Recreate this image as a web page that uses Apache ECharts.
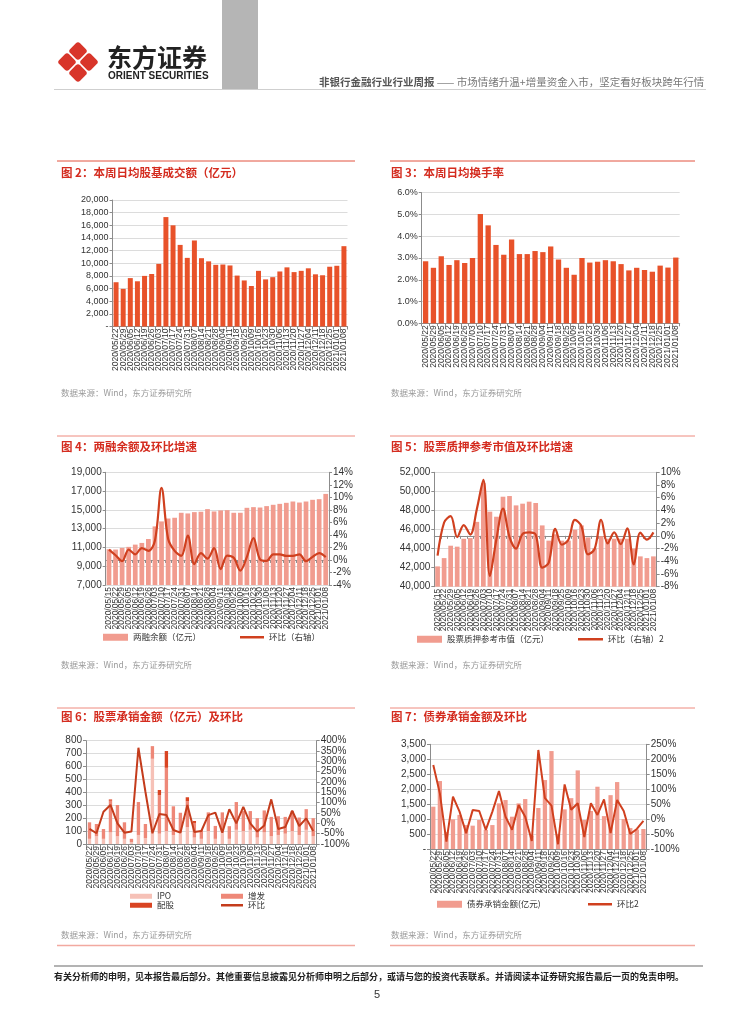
<!DOCTYPE html>
<html><head><meta charset="utf-8">
<script src="https://cdn.jsdelivr.net/npm/echarts@6.0.0/dist/echarts.min.js"></script>
<style>html,body{margin:0;padding:0;background:#fff}#c{width:754px;height:1024px}</style>
</head><body><div id="c"></div>
<script>
// ---------- DATA ----------
const dates33 = ['2020/05/22','2020/05/29','2020/06/05','2020/06/12','2020/06/19','2020/06/26','2020/07/03','2020/07/10','2020/07/17','2020/07/24','2020/07/31','2020/08/07','2020/08/14','2020/08/21','2020/08/28','2020/09/04','2020/09/11','2020/09/18','2020/09/25','2020/10/09','2020/10/16','2020/10/23','2020/10/30','2020/11/06','2020/11/13','2020/11/20','2020/11/27','2020/12/04','2020/12/11','2020/12/18','2020/12/25','2021/01/01','2021/01/08'];
const dates34 = ['2020/05/15','2020/05/22','2020/05/29','2020/06/05','2020/06/12','2020/06/19','2020/06/26','2020/07/03','2020/07/10','2020/07/17','2020/07/24','2020/07/31','2020/08/07','2020/08/14','2020/08/21','2020/08/28','2020/09/04','2020/09/11','2020/09/18','2020/09/25','2020/10/09','2020/10/16','2020/10/23','2020/10/30','2020/11/06','2020/11/13','2020/11/20','2020/11/27','2020/12/04','2020/12/11','2020/12/18','2020/12/25','2021/01/01','2021/01/08'];

// Fig 2: daily avg turnover (亿元)
const turnover = [7000,5950,7650,7150,8000,8300,9900,17300,16000,12900,10850,13600,10800,10300,9750,9800,9650,8050,7280,6400,8800,7450,7800,8700,9350,8600,8800,9200,8250,8100,9450,9600,12700];
// Fig 3: daily avg turnover rate (%)
const turnRate = [2.85,2.55,3.08,2.68,2.9,2.77,3.0,5.02,4.5,3.6,3.15,3.85,3.18,3.18,3.32,3.27,3.53,2.93,2.55,2.23,3.0,2.79,2.83,2.9,2.85,2.72,2.43,2.55,2.45,2.37,2.65,2.56,3.02];
// Fig 4: margin balance & growth
const marginBal = [10810,10775,10950,11060,11300,11480,11900,13240,13770,14080,14160,14690,14620,14760,14800,15080,14830,14940,14970,14690,14690,15220,15290,15250,15400,15540,15640,15750,15890,15780,15890,16070,16140,16700];
const marginChg = [1.66,0.75,-0.2,1.66,0.9,1.9,1.45,3.1,11.5,3.4,1.45,0.65,3.9,-0.65,1.1,0.2,1.9,-1.45,0.7,0.35,-1.7,0.5,3.5,0.1,-0.15,0.9,0.9,0.65,0.65,0.9,-0.2,0.5,1.1,0.45];
// Fig 5: pledge market value & growth
const pledgeVal = [42130,43000,44300,44200,45030,45100,46800,50870,47870,47340,49440,49510,48530,48710,48920,48780,46430,44830,45500,44830,44830,45980,46430,45170,44020,45300,45030,45030,45030,45030,44000,43180,43000,43180];
const pledgeChg = [-3.1,2.1,3.1,-0.2,1.7,0.2,4.2,8.8,-6.3,-0.5,4.3,-0.2,-2.0,0.3,0.55,0.2,-5.0,-4.2,1.1,-1.4,-0.6,2.5,1.5,-2.9,-2.1,2.5,-1.2,0.55,-1.3,1.2,-4.5,0.5,-0.6,0.55];
// Fig 6: equity underwriting (亿元)
const ipo    = [40,60,40,90,60,40,15,70,45,660,80,100,70,90,130,50,40,100,40,100,40,110,100,110,50,90,60,70,80,100,70,110,60];
const zengfa = [128,95,76,245,242,128,25,255,110,98,298,490,222,152,202,113,68,145,100,145,98,215,155,145,150,170,150,145,130,155,135,160,140];
const peigu  = [0,0,0,10,0,0,0,0,0,0,40,130,0,0,30,15,0,0,0,0,0,0,0,0,0,0,0,0,0,0,0,0,0];
const equityChg = [-27,-48,56,89,0,-45,-40,366,153,-48,45,40,-32,-45,89,-42,-37,40,52,-45,68,0,80,0,-40,-11,116,-27,-18,61,-13,24,-37];
// Fig 7: bond underwriting
const bondAmt = [1414,2272,570,990,1140,800,780,970,640,800,1525,1637,1080,1525,1670,450,1370,2305,3274,500,1325,1700,2628,970,1270,2082,1100,1800,2238,1000,700,650,668];
const bondChg = [181,86,-75,75,25,-47,30,27,-36,25,94,8,-36,47,8,-73,231,70,45,-84,116,31,53,-60,53,14,66,-47,64,27,-50,-33,-6];

// ---------- STYLE ----------
const NUM = '"Liberation Sans", Arial, sans-serif';
const CJK = '"Noto Sans CJK SC", "Liberation Sans", sans-serif';
const fmtNum = v => String(v).replace(/\B(?=(\d{3})+(?!\d))/g, ',');

function xCat(gi, data, fs) {
  return {type:'category', gridIndex:gi, data:data, boundaryGap:true,
    axisLine:{lineStyle:{color:'#8c8c8c', width:1}},
    axisTick:{show:true, length:3, lineStyle:{color:'#8c8c8c'}},
    axisLabel:{interval:0, rotate:90, fontSize:fs, color:'#333', fontFamily:NUM, margin:2}};
}
function yVal(gi, min, max, interval, fmt, pos, split, fs) {
  return {type:'value', gridIndex:gi, min:min, max:max, interval:interval, position:pos,
    axisLine:{show:true, lineStyle:{color:'#8c8c8c'}},
    axisTick:{show:true, length:3, lineStyle:{color:'#8c8c8c'}},
    splitLine:{show:split, lineStyle:{color:'#dcdcdc', width:1}},
    axisLabel:{fontSize:fs, color:'#333', fontFamily:NUM, margin:4, formatter:fmt}};
}
function txt(x, y, s, font, fill, align) {
  return {type:'text', x:x, y:y, style:{text:s, font:font, fill:fill, align:align||'left', verticalAlign:'middle'}};
}
function hline(x1, x2, y, color, w) {
  return {type:'line', shape:{x1:x1, y1:y, x2:x2, y2:y}, style:{stroke:color, lineWidth:w||1}};
}
function legendBar(name, left, top, w, h) {
  return {data:[name], left:left, top:top, padding:0, itemWidth:w, itemHeight:h, icon:'rect',
    textStyle:{fontSize:8.5, color:'#333', fontFamily:CJK}, selectedMode:false};
}
function legendLine(name, left, top, w) {
  return {data:[name], left:left, top:top, padding:0, itemWidth:w, itemHeight:2.5, icon:'rect',
    textStyle:{fontSize:8.5, color:'#333', fontFamily:CJK}, selectedMode:false};
}

const titleFont = 'bold 11.5px ' + CJK;
const titleColor = '#D42C1F';
const srcFont = '8.5px ' + CJK;
const srcColor = '#9a9a9a';
const srcText = '数据来源：Wind，东方证券研究所';

const logoRed = '#D8352A';
function petal(cx, cy) {
  return {type:'rect', x:cx, y:cy, rotation:Math.PI/4,
    shape:{x:-7, y:-7, width:14, height:14, r:3}, style:{fill:logoRed}};
}

const graphic = [
  // header
  {type:'rect', shape:{x:222, y:0, width:36, height:89}, style:{fill:'#B5B5B5'}},
  hline(54, 706, 89.5, '#cfcfcf', 1),
  petal(78, 51), petal(67, 62), petal(89, 62), petal(78, 73),
  txt(107, 57, '东方证券', 'bold 25px ' + CJK, '#222'),
  txt(108, 76, 'ORIENT SECURITIES', 'bold 10px ' + NUM, '#222'),
  {type:'text', x:319, y:82, style:{text:'{b|非银行金融行业行业周报}{n| —— 市场情绪升温+增量资金入市，坚定看好板块跨年行情}',
    verticalAlign:'middle', rich:{b:{font:'bold 10.5px ' + CJK, fill:'#555'}, n:{font:'10.5px ' + CJK, fill:'#777'}}}},
  // section lines
  hline(57, 355, 161, '#E2533F', 1), hline(390, 695, 161, '#E2533F', 1),
  hline(57, 355, 436, '#EE8A7E', 1), hline(390, 695, 436, '#EE8A7E', 1),
  hline(57, 355, 708, '#EE8A7E', 1), hline(390, 695, 708, '#EE8A7E', 1),
  hline(57, 355, 945.5, '#F2A9A0', 1.5), hline(390, 695, 945.5, '#F2A9A0', 1.5),
  // titles
  txt(61, 172.5, '图 2：本周日均股基成交额（亿元）', titleFont, titleColor),
  txt(391, 172.5, '图 3：本周日均换手率', titleFont, titleColor),
  txt(61, 446.5, '图 4：两融余额及环比增速', titleFont, titleColor),
  txt(391, 446.5, '图 5：股票质押参考市值及环比增速', titleFont, titleColor),
  txt(61, 716.5, '图 6：股票承销金额（亿元）及环比', titleFont, titleColor),
  txt(391, 716.5, '图 7：债券承销金额及环比', titleFont, titleColor),
  // sources
  txt(61, 393, srcText, srcFont, srcColor), txt(391, 393, srcText, srcFont, srcColor),
  txt(61, 665, srcText, srcFont, srcColor), txt(391, 665, srcText, srcFont, srcColor),
  txt(61, 935, srcText, srcFont, srcColor), txt(391, 935, srcText, srcFont, srcColor),
  // footer
  hline(54, 703, 966, '#9a9a9a', 1.5),
  txt(54, 977, '有关分析师的申明，见本报告最后部分。其他重要信息披露见分析师申明之后部分，或请与您的投资代表联系。并请阅读本证券研究报告最后一页的免责申明。', 'bold 9px ' + CJK, '#222'),
  txt(377, 995, '5', '11px ' + NUM, '#333', 'center')
];

const barRed = '#E8522A';
const barPink = '#F19C8F';
const lineRed = '#D0401F';

const option = {
  animation:false,
  backgroundColor:'#fff',
  graphic: graphic,
  grid:[
    {left:112.5, top:200, width:235, height:126.5},
    {left:421.7, top:192.7, width:258, height:130.6},
    {left:105.7, top:472.3, width:223.3, height:112.7},
    {left:434.3, top:472.3, width:222.4, height:114.4},
    {left:86, top:740.7, width:230.7, height:103.3},
    {left:430, top:744.3, width:216.7, height:104.7}
  ],
  xAxis:[
    xCat(0, dates33, 8.5), xCat(1, dates33, 8.5), xCat(2, dates34, 8.5),
    xCat(3, dates34, 8.5), xCat(4, dates33, 8.5), xCat(5, dates33, 8.5)
  ],
  yAxis:[
    yVal(0, 0, 20000, 2000, v => v === 0 ? '-' : fmtNum(v), 'left', true, 9),
    yVal(1, 0, 6, 1, v => v.toFixed(1) + '%', 'left', true, 9),
    yVal(2, 7000, 19000, 2000, v => fmtNum(v), 'left', true, 10),
    yVal(2, -4, 14, 2, v => v + '%', 'right', false, 10),
    yVal(3, 40000, 52000, 2000, v => fmtNum(v), 'left', true, 10),
    yVal(3, -8, 10, 2, v => v + '%', 'right', false, 10),
    yVal(4, 0, 800, 100, v => String(v), 'left', true, 10),
    yVal(4, -100, 400, 50, v => v + '%', 'right', false, 10),
    yVal(5, 0, 3500, 500, v => v === 0 ? '-' : fmtNum(v), 'left', true, 10),
    yVal(5, -100, 250, 50, v => v + '%', 'right', false, 10)
  ],
  legend:[
    legendBar('两融余额（亿元）', 103, 633, 25, 7),
    legendLine('环比（右轴）', 240, 633, 24),
    legendBar('股票质押参考市值（亿元）', 417, 635, 25, 7),
    legendLine('环比（右轴）2', 578, 635, 25),
    legendBar('IPO', 130, 892, 22, 5),
    legendBar('增发', 221, 892, 22, 5),
    legendBar('配股', 130, 901, 22, 5),
    legendLine('环比', 221, 901, 22),
    legendBar('债券承销金额(亿元)', 437, 900, 25, 7),
    legendLine('环比2', 588, 900, 24)
  ],
  series:[
    {name:'日均股基成交额', type:'bar', xAxisIndex:0, yAxisIndex:0, data:turnover, barWidth:'70%', itemStyle:{color:barRed}},
    {name:'日均换手率', type:'bar', xAxisIndex:1, yAxisIndex:1, data:turnRate, barWidth:'68%', itemStyle:{color:barRed}},
    {name:'两融余额（亿元）', type:'bar', xAxisIndex:2, yAxisIndex:2, data:marginBal, barWidth:'72%', itemStyle:{color:barPink}},
    {name:'环比（右轴）', type:'line', xAxisIndex:2, yAxisIndex:3, data:marginChg, symbol:'none', smooth:0.35, lineStyle:{color:lineRed, width:2.2}, itemStyle:{color:lineRed}},
    {name:'股票质押参考市值（亿元）', type:'bar', xAxisIndex:3, yAxisIndex:4, data:pledgeVal, barWidth:'72%', itemStyle:{color:barPink}},
    {name:'环比（右轴）2', type:'line', xAxisIndex:3, yAxisIndex:5, data:pledgeChg, symbol:'none', smooth:0.35, lineStyle:{color:lineRed, width:2.2}, itemStyle:{color:lineRed}},
    {name:'IPO', type:'bar', stack:'eq', xAxisIndex:4, yAxisIndex:6, data:ipo, barWidth:'48%', itemStyle:{color:'#F6C1B7'}},
    {name:'增发', type:'bar', stack:'eq', xAxisIndex:4, yAxisIndex:6, data:zengfa, barWidth:'48%', itemStyle:{color:'#EE8878'}},
    {name:'配股', type:'bar', stack:'eq', xAxisIndex:4, yAxisIndex:6, data:peigu, barWidth:'48%', itemStyle:{color:'#D94422'}},
    {name:'环比', type:'line', xAxisIndex:4, yAxisIndex:7, data:equityChg, symbol:'none', lineStyle:{color:'#C43C1C', width:2}, itemStyle:{color:'#C43C1C'}},
    {name:'债券承销金额(亿元)', type:'bar', xAxisIndex:5, yAxisIndex:8, data:bondAmt, barWidth:'65%', itemStyle:{color:barPink}},
    {name:'环比2', type:'line', xAxisIndex:5, yAxisIndex:9, data:bondChg, symbol:'none', lineStyle:{color:lineRed, width:2}, itemStyle:{color:lineRed}}
  ]
};

const chart = echarts.init(document.getElementById('c'), null, {renderer:'canvas', width:754, height:1024});
chart.setOption(option);
</script></body></html>
